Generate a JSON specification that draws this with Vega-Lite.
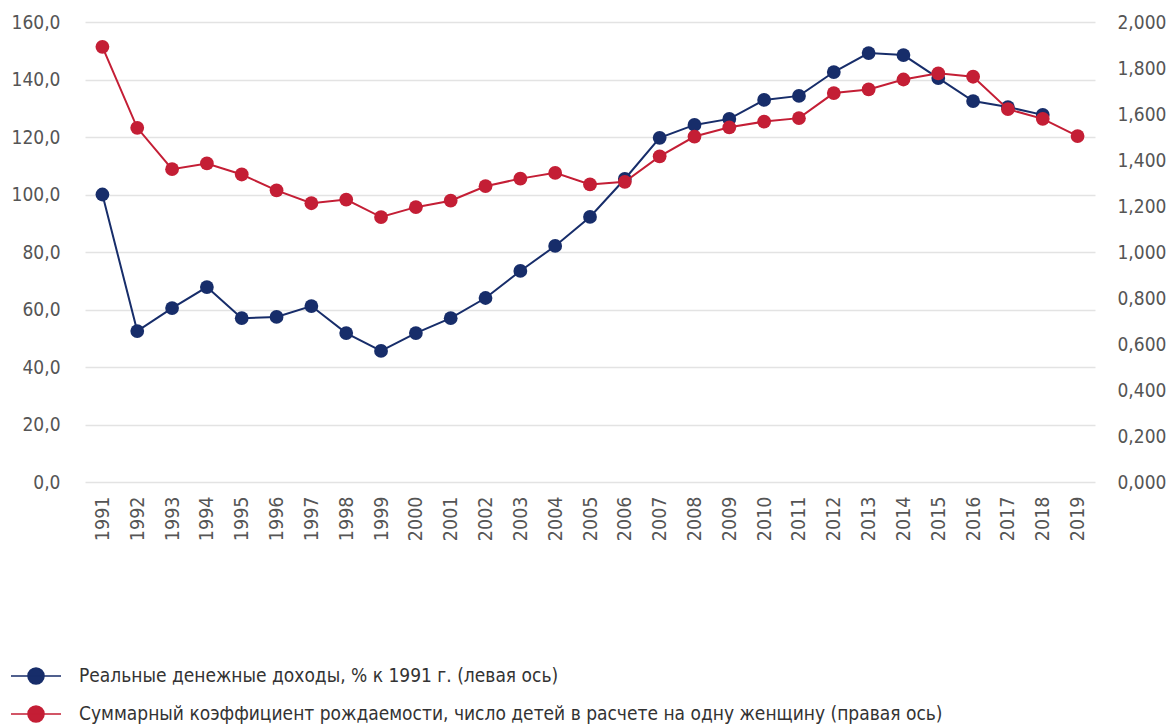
{
  "$schema": "https://vega.github.io/schema/vega-lite/v6.json",
  "autosize": {"type": "none"},
  "width": 1010,
  "height": 460,
  "padding": {"left": 85, "top": 22, "right": 72, "bottom": 246},
  "background": "white",
  "data": {"values": [
    {"year": "1991", "income": 100.0, "tfr": 1.892},
    {"year": "1992", "income": 52.5, "tfr": 1.540},
    {"year": "1993", "income": 60.5, "tfr": 1.360},
    {"year": "1994", "income": 67.8, "tfr": 1.385},
    {"year": "1995", "income": 57.0, "tfr": 1.337},
    {"year": "1996", "income": 57.4, "tfr": 1.268},
    {"year": "1997", "income": 61.2, "tfr": 1.212},
    {"year": "1998", "income": 51.8, "tfr": 1.228},
    {"year": "1999", "income": 45.6, "tfr": 1.152},
    {"year": "2000", "income": 51.8, "tfr": 1.195},
    {"year": "2001", "income": 57.0, "tfr": 1.223},
    {"year": "2002", "income": 64.0, "tfr": 1.286},
    {"year": "2003", "income": 73.4, "tfr": 1.319},
    {"year": "2004", "income": 82.1, "tfr": 1.344},
    {"year": "2005", "income": 92.2, "tfr": 1.294},
    {"year": "2006", "income": 105.4, "tfr": 1.305},
    {"year": "2007", "income": 119.7, "tfr": 1.416},
    {"year": "2008", "income": 124.2, "tfr": 1.502},
    {"year": "2009", "income": 126.3, "tfr": 1.542},
    {"year": "2010", "income": 132.9, "tfr": 1.567},
    {"year": "2011", "income": 134.3, "tfr": 1.582},
    {"year": "2012", "income": 142.6, "tfr": 1.691},
    {"year": "2013", "income": 149.2, "tfr": 1.707},
    {"year": "2014", "income": 148.5, "tfr": 1.750},
    {"year": "2015", "income": 140.5, "tfr": 1.777},
    {"year": "2016", "income": 132.5, "tfr": 1.762},
    {"year": "2017", "income": 130.4, "tfr": 1.621},
    {"year": "2018", "income": 127.7, "tfr": 1.579},
    {"year": "2019", "income": null, "tfr": 1.504}
  ]},
  "encoding": {
    "x": {
      "field": "year", "type": "ordinal",
      "scale": {"type": "point", "padding": 0.5},
      "axis": {
        "title": null, "labelAngle": 270, "labelPadding": 14,
        "ticks": false, "domain": false, "grid": false,
        "labelFont": "Liberation Sans Narrow, DejaVu Sans Condensed, Roboto",
        "labelFontSize": 19.5, "labelColor": "#555555"
      }
    }
  },
  "layer": [
    {
      "encoding": {
        "y": {
          "field": "income", "type": "quantitative",
          "scale": {"domain": [0, 160], "nice": false},
          "axis": {
            "title": null, "orient": "left", "values": [0, 20, 40, 60, 80, 100, 120, 140, 160],
            "labelExpr": "replace(format(datum.value, '.1f'), '.', ',')",
            "ticks": false, "domain": false, "grid": true,
            "gridColor": "#e3e3e3", "gridWidth": 1.5, "labelPadding": 25,
            "labelFont": "Liberation Sans Narrow, DejaVu Sans Condensed, Roboto",
            "labelFontSize": 19, "labelColor": "#555555"
          }
        },
        "color": {"datum": "Реальные денежные доходы, % к 1991 г. (левая ось)"}
      },
      "layer": [
        {"mark": {"type": "line", "strokeWidth": 2}},
        {"mark": {"type": "point", "filled": true, "size": 190, "opacity": 1}}
      ]
    },
    {
      "encoding": {
        "y": {
          "field": "tfr", "type": "quantitative",
          "scale": {"domain": [0, 2], "nice": false},
          "axis": {
            "title": null, "orient": "right", "values": [0, 0.2, 0.4, 0.6, 0.8, 1.0, 1.2, 1.4, 1.6, 1.8, 2.0],
            "labelExpr": "replace(format(datum.value, '.3f'), '.', ',')",
            "ticks": false, "domain": false, "grid": false, "labelPadding": 22,
            "labelFont": "Liberation Sans Narrow, DejaVu Sans Condensed, Roboto",
            "labelFontSize": 19, "labelColor": "#555555"
          }
        },
        "color": {"datum": "Суммарный коэффициент рождаемости, число детей в расчете на одну женщину (правая ось)"}
      },
      "layer": [
        {"mark": {"type": "line", "strokeWidth": 2}},
        {"mark": {"type": "point", "filled": true, "size": 190, "opacity": 1}}
      ]
    }
  ],
  "resolve": {"scale": {"y": "independent"}},
  "config": {
    "view": {"stroke": null},
    "range": {"category": ["#172d6a", "#c41e35"]},
    "legend": {
      "orient": "none", "legendX": -75, "legendY": 628,
      "direction": "vertical", "title": null,
      "symbolType": "M-1,0L1,0M-0.32,0A0.32,0.32,0,1,0,0.32,0A0.32,0.32,0,1,0,-0.32,0Z",
      "symbolSize": 2500, "symbolStrokeWidth": 1.6, "symbolOpacity": 1,
      "labelFont": "Liberation Sans Narrow, DejaVu Sans Condensed, Roboto",
      "labelFontSize": 19, "labelColor": "#333333", "labelLimit": 1000,
      "labelOffset": 17, "rowPadding": -7
    }
  }
}
